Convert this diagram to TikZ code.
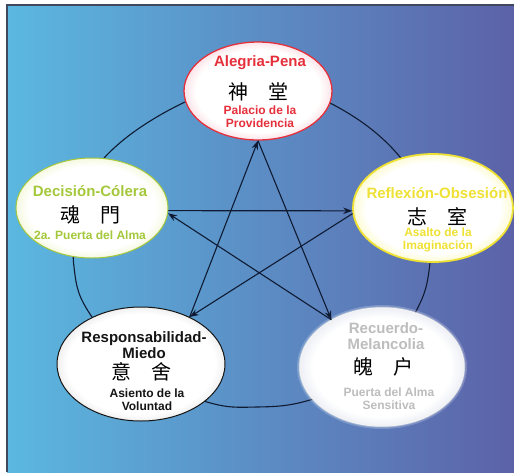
\documentclass[tikz,border=0pt]{standalone}
\usepackage{fontspec}
\setmainfont{Liberation Sans}
\newfontfamily\cjk{Noto Sans CJK SC}
\usetikzlibrary{shapes.geometric,arrows.meta}

\definecolor{bgL}{HTML}{5BB8E0}
\definecolor{bgR}{HTML}{5C62A8}
\definecolor{cRed}{HTML}{E5303C}
\definecolor{cGreen}{HTML}{A4C83A}
\definecolor{cYellow}{HTML}{EFE133}
\definecolor{cGray}{HTML}{BDBDBD}
\definecolor{cInk}{HTML}{151515}
\definecolor{cLine}{HTML}{0F1A33}
\definecolor{gRed}{HTML}{FBE4E8}
\definecolor{gGreen}{HTML}{F6F9E0}
\definecolor{gYellow}{HTML}{FDFBD2}
\definecolor{gBlack}{HTML}{F0F0F0}
\definecolor{gGray}{HTML}{EEF0F6}

\pgfdeclareradialshading{glowRed}{\pgfpointorigin}{color(0bp)=(white); color(21bp)=(white); color(25bp)=(gRed); color(50bp)=(gRed)}
\pgfdeclareradialshading{glowGreen}{\pgfpointorigin}{color(0bp)=(white); color(21bp)=(white); color(25bp)=(gGreen); color(50bp)=(gGreen)}
\pgfdeclareradialshading{glowYellow}{\pgfpointorigin}{color(0bp)=(white); color(21bp)=(white); color(25bp)=(gYellow); color(50bp)=(gYellow)}
\pgfdeclareradialshading{glowBlack}{\pgfpointorigin}{color(0bp)=(white); color(22bp)=(white); color(25bp)=(gBlack); color(50bp)=(gBlack)}
\pgfdeclareradialshading{glowGray}{\pgfpointorigin}{color(0bp)=(white); color(21bp)=(white); color(25bp)=(gGray); color(50bp)=(gGray)}

\tikzset{
  ell/.style={ellipse, inner sep=0pt},
  arr/.style={draw=cLine, line width=1.1pt, -{Stealth[length=9pt,width=6.5pt]}},
  ttl/.style={font=\fontsize{15}{15.5}\selectfont\bfseries, align=center, inner sep=0pt},
  sub/.style={font=\fontsize{12}{12.7}\selectfont\bfseries, align=center, inner sep=0pt},
  han/.style={font=\cjk\fontsize{20}{20}\selectfont, inner sep=0pt, text=black}
}

\begin{document}
\begin{tikzpicture}[x=1pt,y=-1pt]
\useasboundingbox (0,0) rectangle (514,472);
\fill[white] (0,0) rectangle (514,472);
\shade[left color=bgL, right color=bgR] (7,5) rectangle (514,472);
\draw[cLine!80, line width=1.2pt] (7,472) -- (7,5) -- (514,5);

% cycle
\draw[cLine, line width=1.1pt] plot[smooth cycle, tension=0.7] coordinates {
  (258,84) (330,103) (400,157) (427,220) (430,263) (415,313) (368,375)
  (310,400) (257,407) (207,402) (148,375) (92,317) (74,267) (80,215)
  (105,157) (185,102)};

% soft halo around the grey ellipse
\fill[white, opacity=0.2] (382,367) ellipse [x radius=85pt, y radius=62pt];
\fill[white, opacity=0.3] (382,367) ellipse [x radius=83.5pt, y radius=60.5pt];

% element ellipses
\node[ell, minimum width=148pt, minimum height=98pt, draw=cRed, line width=1.3pt, shading=glowRed] (fire) at (258,91) {};
\node[ell, minimum width=152pt, minimum height=100pt, draw=cGreen, line width=1pt, shading=glowGreen] (wood) at (92,208) {};
\node[ell, minimum width=160pt, minimum height=108pt, draw=cYellow, line width=1.8pt, shading=glowYellow] (earth) at (433,208) {};
\node[ell, minimum width=168pt, minimum height=114pt, draw=cInk, line width=1pt, shading=glowBlack] (water) at (141,364) {};
\node[ell, minimum width=164pt, minimum height=118pt, draw=white!80!cGray, line width=1.4pt, shading=glowGray] (metal) at (382,367) {};

% star connectors
\draw[arr] (water.44) -- (fire.270);
\draw[arr] (fire.270) -- (metal.137);
\draw[arr] (metal.137) -- (wood.-4.5);
\draw[arr] (wood.-2) -- (earth.182);
\draw[arr] (earth.184) -- (water.44);

% texts
\node[ttl, text=cRed] (fireT) at (260,63) {Alegria-Pena};
\node[han] (fireH) at (258,92) {神　堂};
\node[sub, text=cRed] (fireS) at (260,117) {Palacio de la\\Providencia};

\node[ttl, text=cGreen] (woodT) at (90,191) {Decisión-Cólera};
\node[han] (woodH) at (90,215) {魂　門};
\node[sub, text=cGreen] (woodS) at (90,235) {2a. Puerta del Alma};

\node[ttl, text=cYellow] (earthT) at (437,193) {Reflexión-Obsesión};
\node[han] (earthH) at (437,217) {志　室};
\node[sub, text=cYellow] (earthS) at (438,240) {Asalto de la\\Imaginación};

\node[ttl, text=cInk] (waterT) at (144,345) {Responsabilidad-\\Miedo};
\node[han] (waterH) at (141,372) {意　舍};
\node[sub, text=cInk] (waterS) at (147,400) {Asiento de la\\Voluntad};

\node[ttl, text=cGray] (metalT) at (386,336) {Recuerdo-\\Melancolia};
\node[han] (metalH) at (383,367) {魄　户};
\node[sub, text=cGray] (metalS) at (389,399) {Puerta del Alma\\Sensitiva};
\end{tikzpicture}
\end{document}
